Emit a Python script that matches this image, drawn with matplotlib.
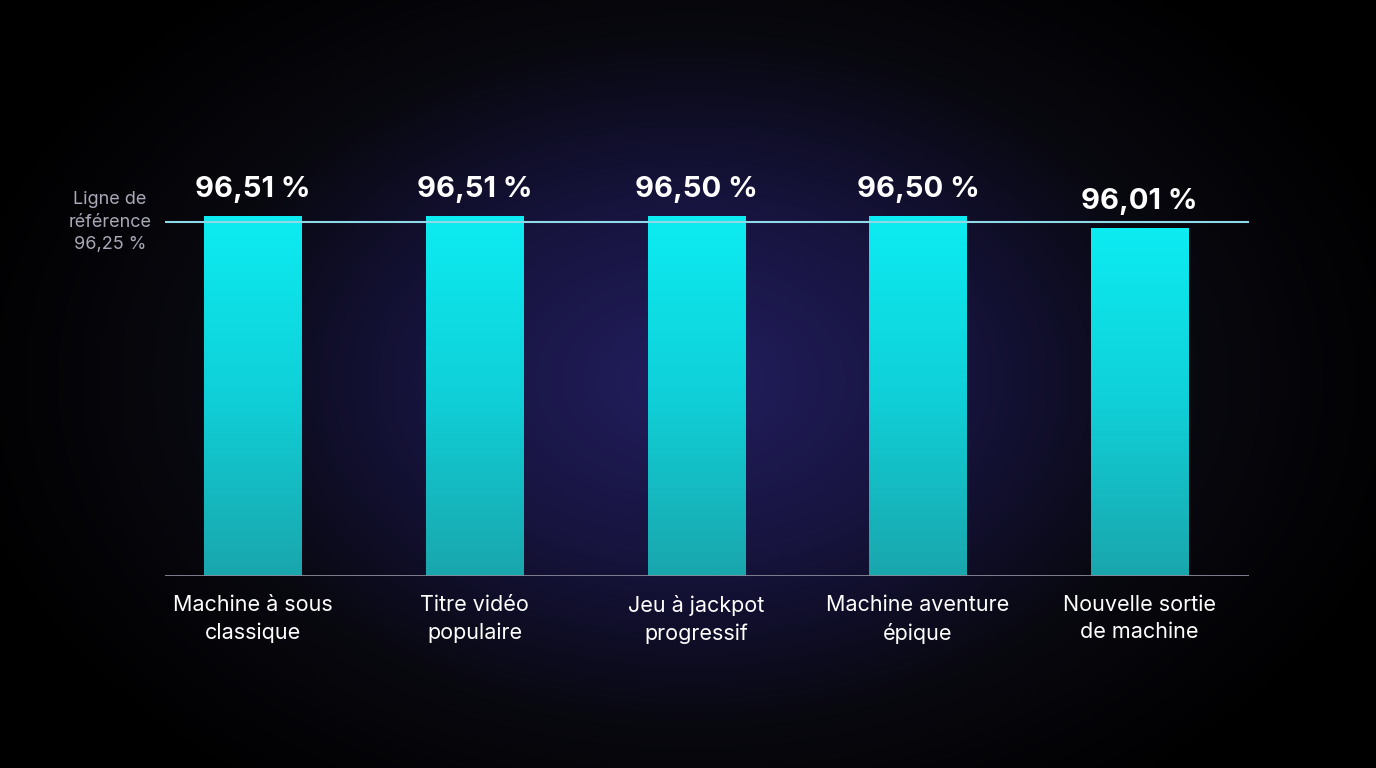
import numpy as np
import matplotlib
matplotlib.use("Agg")
import matplotlib.pyplot as plt
from matplotlib.colors import LinearSegmentedColormap

categories = ["Machine à sous\nclassique", "Titre vidéo\npopulaire", "Jeu à jackpot\nprogressif",
              "Machine aventure\népique", "Nouvelle sortie\nde machine"]
values = [96.51, 96.51, 96.50, 96.50, 96.01]
value_labels = ["96,51 %", "96,51 %", "96,50 %", "96,50 %", "96,01 %"]
reference = 96.25
reference_label = "Ligne de\nréférence\n96,25 %"

plt.rcParams['font.family'] = ['Inter', 'DejaVu Sans']
fig = plt.figure(figsize=(13.76, 7.68), dpi=100)

# radial background
bg = fig.add_axes([0, 0, 1, 1])
yy, xx = np.mgrid[0:768, 0:1376]
r = np.sqrt(((xx - 690) / 760) ** 2 + ((yy - 380) / 520) ** 2)
cmap_bg = LinearSegmentedColormap.from_list("bg", ["#221e5e", "#17143f", "#08080f", "#000000"])
bg.imshow(np.clip(r, 0, 1), cmap=cmap_bg, aspect="auto", extent=[0, 1, 0, 1], vmin=0, vmax=1)
bg.axis("off")

ax = fig.add_axes([0.12, 0.25, 0.788, 0.62])
ax.patch.set_alpha(0)
ax.set_xlim(-0.396, 4.495)
ax.set_ylim(81.51, 101.34)
x = np.arange(len(values))
bars = ax.bar(x, np.array(values) - 81.51, bottom=81.51, width=0.44, color="none", edgecolor="none")
grad = LinearSegmentedColormap.from_list("bar", ["#1aa6ad", "#10d0d8", "#0cecf2"])
for b, lab in zip(bars, value_labels):
    x0, w, h = b.get_x(), b.get_width(), b.get_height()
    im = ax.imshow(np.linspace(0, 1, 256).reshape(-1, 1), cmap=grad, origin="lower",
                   extent=[x0, x0 + w, 81.51, 81.51 + h], aspect="auto", zorder=2)
    im.set_clip_path(b)
    ax.text(x0 + w / 2, 81.51 + h + 0.55, lab, ha="center", va="bottom", color="white",
            fontsize=21, fontweight="bold")

ax.axhline(reference, color="#8fd8e8", lw=1.5, zorder=3)
ax.text(-0.645, reference, reference_label, ha="center", va="center", color="#a9a9b8",
        fontsize=13, linespacing=1.45, clip_on=False)
ax.axhline(81.51, color="#8a8a9a", lw=2, zorder=4)
for xi, c in zip(x, categories):
    ax.text(xi, 81.51 - 0.8, c, ha="center", va="top", color="white", fontsize=15.5, linespacing=1.45)
for s in ax.spines.values():
    s.set_visible(False)
ax.set_xticks([]); ax.set_yticks([])
fig.savefig("out.png", dpi=100)
